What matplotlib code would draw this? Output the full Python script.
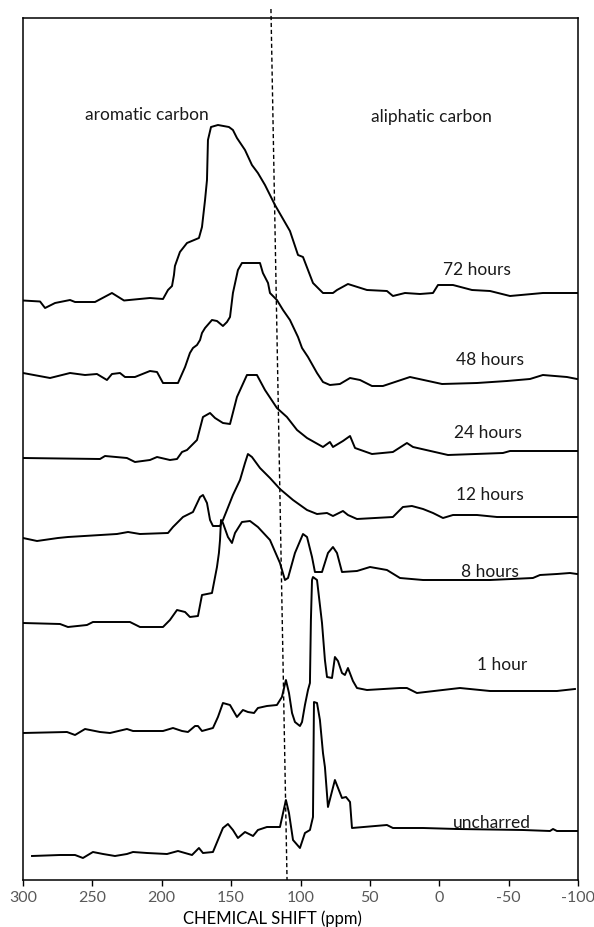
import matplotlib
matplotlib.use("Agg")
from matplotlib import pyplot as plt
import numpy as np

plt.rcParams['font.family'] = ['Lato', 'DejaVu Sans']
plt.rcParams['axes.unicode_minus'] = False

# chemical shift (ppm) and intensity above each trace's baseline
ppm_72 = [300, 287.7, 284.1, 276.9, 266.1, 262.5, 248.1, 235.9, 227.2, 208.5, 199.1, 195.5, 192.6, 191.2,
          190.5, 186.9, 181.8, 173.2, 171.0, 168.8, 167.4, 166.7, 164.5, 159.5, 151.6, 148.7, 145.8, 140.0,
          135.0, 130.7, 125.6, 118.4, 107.6, 101.8, 98.2, 91.0, 83.8, 76.6, 73.7, 65.8, 52.1, 37.7, 33.4,
          24.7, 13.9, 4.5, 0.9, -9.9, -23.6, -36.6, -51.0, -74.7, -99.3]
int_72 = [-7.5, -8.5, -15, -10, -7, -9, -9, 0, -7.5, -5, -6, 3, 7, 18,
          27, 41, 50, 55, 66, 93, 113, 153, 166, 168, 166, 163, 155, 143,
          128, 120, 108, 88, 62, 38, 36, 10, 0, 0, 3, 9, 3, 2, -3,
          0, -1, 0, 8, 8, 3, 2, -3, 0, 0]

ppm_48 = [300, 280.5, 266.1, 255.3, 246.7, 239.5, 235.9, 230.1, 226.5, 219.3, 208.5, 203.4, 199.1, 188.3,
          183.2, 179.7, 177.5, 174.6, 172.4, 171.0, 168.8, 163.8, 160.2, 155.9, 153.0, 150.8, 148.7, 145.1,
          142.2, 129.2, 127.1, 123.4, 122.0, 117.0, 112.6, 107.6, 101.8, 98.9, 94.6, 88.1, 83.8, 78.8,
          71.6, 64.3, 57.1, 48.5, 40.6, 21.1, -2.0, -27.2, -48.8, -65.4, -74.7, -92.0, -99.3]
int_48 = [6, 1, 6, 4, 5, -1, 5, 6, 2, 2, 8, 7, -4, -4,
          12, 26, 31, 34, 39, 46, 51, 59, 58, 53, 57, 62, 86, 109,
          116, 116, 106, 96, 86, 79, 69, 59, 42, 31, 22, 6, -3, -6,
          -5, 1, -1, -7, -7, 2, -5, -4, -2, 0, 4, 2, 0]

ppm_24 = [300, 244.5, 240.9, 225.1, 219.3, 208.5, 203.4, 194.1, 189.0, 185.4, 181.8, 174.6, 170.3, 165.2,
          161.6, 155.9, 150.8, 145.8, 138.6, 131.4, 125.6, 117.0, 109.8, 102.5, 95.3, 83.8, 78.8, 76.6,
          69.4, 64.3, 60.7, 48.5, 33.4, 23.3, 18.9, -6.3, -45.9, -51.0, -99.3]
int_24 = [-7, -8, -5, -7, -11, -9, -6, -9, -8, -1, 1, 11, 34, 38,
          33, 28, 27, 54, 76, 76, 61, 43, 34, 21, 13, 4, 9, 4,
          10, 15, 3, -3, -1, 8, 4, -4, -2, 0, 0]

ppm_12 = [300, 289.9, 274.8, 267.6, 232.3, 224.3, 215.7, 195.5, 191.9, 184.7, 177.5, 172.4, 170.3, 167.4,
          165.2, 163.1, 158.0, 155.9, 153.0, 148.7, 143.6, 140.0, 137.9, 135.0, 129.2, 122.0, 114.8, 105.4,
          95.3, 88.1, 80.9, 76.6, 69.4, 65.8, 59.3, 33.4, 26.2, 19.7, 11.7, 4.5, -2.7, -9.9, -27.2,
          -41.6, -99.3]
int_12 = [-21, -24, -21, -20, -17, -15, -17, -16, -10, 0, 5, 20, 22, 14,
          -3, -9, -9, -3, 7, 22, 37, 54, 63, 60, 49, 39, 28, 17,
          7, 3, 4, 1, 6, 2, -2, 0, 10, 11, 8, 4, -1, 2, 2,
          0, 0]

ppm_8 = [300, 273.3, 267.6, 253.9, 249.6, 222.9, 215.7, 199.1, 194.1, 189.0, 183.2, 179.7, 173.9, 171.0,
         163.8, 160.2, 158.8, 158.0, 157.3, 155.9, 152.3, 149.4, 147.2, 142.2, 136.4, 130.7, 122.0, 114.8,
         111.2, 109.0, 104.0, 98.2, 95.3, 91.7, 89.6, 84.5, 80.2, 76.6, 73.7, 70.1, 59.3, 49.9, 37.7,
         28.3, 11.7, -36.6, -67.5, -72.6, -84.8, -94.2, -99.3]
int_8 = [-49, -50, -53, -51, -48, -48, -53, -53, -46, -36, -38, -43, -42, -21,
         -19, 7, 21, 34, 54, 51, 37, 31, 41, 52, 53, 47, 34, 11,
         -6, -4, 21, 40, 37, 17, 2, 2, 21, 27, 21, 2, 3, 7, 4,
         -4, -6, -6, -4, -1, 0, 1, 0]

ppm_1 = [300, 268.3, 262.5, 255.3, 244.5, 237.3, 225.1, 220.7, 199.1, 191.9, 185.4, 181.1, 176.0, 173.9,
         171.0, 163.1, 159.5, 155.9, 150.8, 145.8, 141.5, 137.9, 133.5, 130.7, 124.2, 117.0, 113.4, 110.5,
         108.3, 106.1, 104.0, 100.4, 98.9, 96.8, 94.6, 93.2, 92.5, 91.7, 91.0, 88.1, 84.5, 82.4, 80.9,
         77.3, 75.2, 73.0, 70.1, 68.0, 65.8, 62.2, 59.3, 52.1, 28.3, 23.3, 16.1, -14.9, -36.6, -84.8, -97.8]
int_1 = [-43, -42, -45, -39, -42, -43, -39, -41, -41, -38, -41, -42, -36, -36,
         -41, -38, -27, -13, -15, -27, -20, -22, -23, -18, -16, -15, -7, 10,
         -3, -23, -32, -36, -32, -15, 0, 7, 70, 110, 113, 110, 67, 30, 13,
         12, 33, 29, 17, 15, 22, 9, 2, 0, 2, 2, -3, 2, -1, -1, 1]

ppm_un = [293.5, 273.3, 262.5, 256.8, 249.6, 242.3, 233.7, 225.1, 220.7, 210.6, 196.2, 188.3, 178.2, 173.2,
          170.3, 163.1, 155.9, 152.3, 148.7, 145.1, 140.0, 134.2, 130.7, 124.2, 114.8, 110.5, 108.3, 105.4,
          100.4, 96.8, 93.2, 91.0, 90.3, 88.1, 86.0, 83.8, 82.4, 80.2, 75.2, 70.1, 67.2, 64.3, 62.9,
          37.7, 33.4, 11.7, -12.8, -60.3, -79.8, -82.0, -84.8, -99.3]
int_un = [-25, -24, -24, -27, -21, -23, -25, -23, -21, -22, -23, -20, -24, -17,
          -22, -21, 3, 7, 1, -7, -1, -5, 1, 4, 4, 31, 18, -9,
          -17, -2, 1, 14, 129, 128, 111, 78, 64, 24, 51, 33, 34, 29, 3,
          6, 3, 3, 2, 1, 0, 2, 0, 0]

series = [(ppm_72, int_72), (ppm_48, int_48), (ppm_24, int_24), (ppm_12, int_12),
          (ppm_8, int_8), (ppm_1, int_1), (ppm_un, int_un)]
offsets = [587, 501, 429, 363, 306, 190, 49]
labels = ["72 hours", "48 hours", "24 hours", "12 hours", "8 hours", "1 hour", "uncharred"]
label_pos = [(-27, 610), (-36.6, 520), (-35, 447), (-36.6, 385), (-36.6, 308), (-45, 215), (-38, 57)]

fig = plt.figure(figsize=(5.94, 9.27), dpi=100)
ax = fig.add_axes([23/594, 47/927, 555/594, 862/927])

for (x, y), off in zip(series, offsets):
    ax.plot(x, np.array(y) + off, color="black", lw=1.4, solid_joinstyle="round")

for lab, (lx, ly) in zip(labels, label_pos):
    ax.text(lx, ly, lab, ha="center", va="center", fontsize=12.5, color="#1a1a1a")

ax.text(210.6, 765, "aromatic carbon", ha="center", va="center", fontsize=12.5, color="#1a1a1a")
ax.text(5.9, 763, "aliphatic carbon", ha="center", va="center", fontsize=12.5, color="#1a1a1a")

# dividing line between aromatic and aliphatic region
ax.plot([121.3, 109.7], [871, 0], color="black", lw=1, ls=(0, (3, 2)), clip_on=False)

ax.set_xlim(300, -100)
ax.set_ylim(0, 862)
ax.set_xticks(np.arange(300, -101, -50))
ax.set_yticks([])
ax.tick_params(axis="x", direction="out", length=4, width=1, labelsize=11.5, labelcolor="#595959", pad=4)
for s in ax.spines.values():
    s.set_linewidth(1.1)
ax.set_xlabel("CHEMICAL SHIFT (ppm)", fontsize=12)
ax.xaxis.set_label_coords(0.449, -0.035)

plt.savefig("out.png", dpi=100)
